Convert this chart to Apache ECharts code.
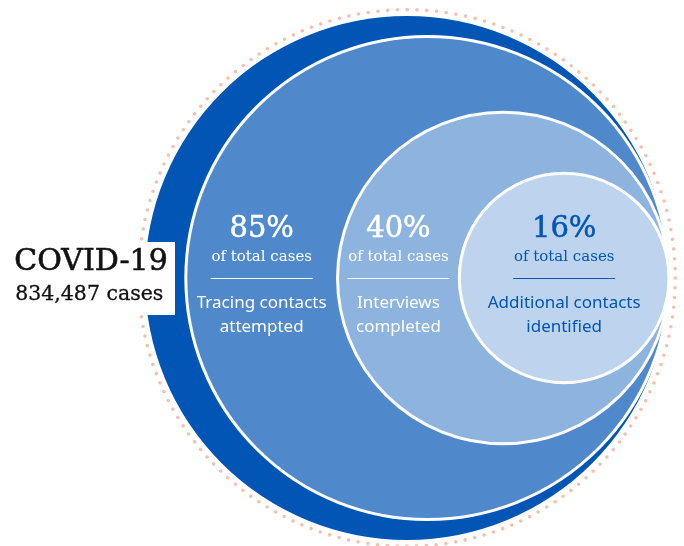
<!DOCTYPE html>
<html>
<head>
<meta charset="utf-8">
<script src="https://cdn.jsdelivr.net/npm/echarts@6/dist/echarts.min.js"></script>
<style>
html,body{margin:0;padding:0;background:#fff;}
#chart{width:684px;height:546px;}
</style>
</head>
<body>
<div id="chart"></div>
<script>
// ---- data ----
const headline = 'COVID-19';
const totalCases = '834,487 cases';
const shares = [100, 85, 40, 16];               // % of total cases (area of each circle)
const shareLabels = ['', '85%', '40%', '16%'];
const subLabel = 'of total cases';
const stepNames = ['', 'Tracing contacts\nattempted', 'Interviews\ncompleted', 'Additional contacts\nidentified'];
const fills = ['#0055b5', '#4f89cb', '#8db3df', '#bed4ee'];
const textColors = ['#ffffff', '#ffffff', '#ffffff', '#0055b5'];

const chart = echarts.init(document.getElementById('chart'));

function radiusOf(share) { return Math.sqrt(share / 100); }

const option = {
  animation: false,
  grid: { left: 0, right: 0, top: 0, bottom: 0 },
  xAxis: { type: 'value', min: -2.553, max: 0.0573, show: false },
  yAxis: { type: 'value', min: -1.023, max: 1.061, show: false },
  graphic: [
    { type: 'rect', left: 0, top: 242, z: 100, shape: { width: 175, height: 73 }, style: { fill: '#ffffff' } },
    { type: 'text', left: 14, top: 247, z: 101, style: { text: headline, font: '30px "DejaVu Serif"', fill: '#111', stroke: '#111', lineWidth: 0.6 } },
    { type: 'text', left: 15, top: 284, z: 101, style: { text: totalCases, font: '20.5px "DejaVu Serif"', fill: '#111', stroke: '#111', lineWidth: 0.3 } }
  ],
  series: [{
    type: 'custom',
    coordinateSystem: 'cartesian2d',
    data: shares.map((s, i) => [i, s]),
    renderItem: function (params, api) {
      const i = api.value(0);
      const r = radiusOf(api.value(1));
      const c = api.coord([-r, 0]);
      const rp = api.size([r, 0])[0];
      const children = [];
      if (i === 0) {
        // dotted halo around the total
        children.push({
          type: 'circle',
          shape: { cx: c[0], cy: c[1], r: rp * 1.024 },
          style: { fill: 'none', stroke: '#f7bfad', lineWidth: 3.6, lineDash: [0, 9.8], lineCap: 'round' }
        });
        children.push({
          type: 'circle',
          shape: { cx: c[0], cy: c[1], r: rp },
          style: { fill: fills[0] }
        });
        return { type: 'group', children: children };
      }
      children.push({
        type: 'circle',
        shape: { cx: c[0], cy: c[1], r: rp },
        style: { fill: fills[i], stroke: '#ffffff', lineWidth: 3 }
      });
      // text column: centered between this circle's left edge and the next one's
      let tx;
      if (i < shares.length - 1) {
        const rn = radiusOf(shares[i + 1]);
        const leftThis = api.coord([-2 * r, 0])[0];
        const leftNext = api.coord([-2 * rn, 0])[0];
        tx = (leftThis + leftNext) / 2;
      } else {
        tx = c[0];
      }
      const cy = c[1];
      const col = textColors[i];
      children.push({
        type: 'text',
        style: { text: shareLabels[i], x: tx, y: cy - 49, textAlign: 'center', textVerticalAlign: 'middle',
                 font: '29px "DejaVu Serif"', fill: col, stroke: col, lineWidth: 0.5 }
      });
      children.push({
        type: 'text',
        style: { text: subLabel, x: tx, y: cy - 21, textAlign: 'center', textVerticalAlign: 'middle',
                 font: '15px "DejaVu Serif"', fill: col }
      });
      const ly = Math.round(cy) + 0.5;
      children.push({
        type: 'line',
        shape: { x1: tx - 51, y1: ly, x2: tx + 51, y2: ly },
        style: { stroke: col, lineWidth: 1.2 }
      });
      const lines = stepNames[i].split('\n');
      lines.forEach((ln, k) => {
        children.push({
          type: 'text',
          style: { text: ln, x: tx, y: cy + 25 + k * 24, textAlign: 'center', textVerticalAlign: 'middle',
                   font: '17px "Noto Sans"', fill: col }
        });
      });
      return { type: 'group', children: children };
    }
  }]
};
chart.setOption(option);
</script>
</body>
</html>
